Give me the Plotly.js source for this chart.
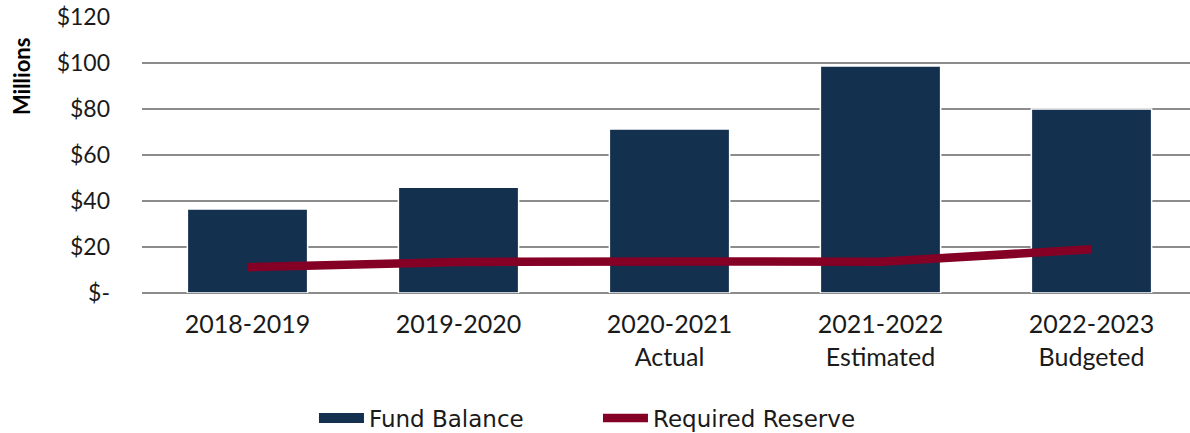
<!DOCTYPE html>
<html>
<head>
<meta charset="utf-8">
<script src="https://cdn.plot.ly/plotly-3.0.1.min.js"></script>
<style>
  body { margin: 0; overflow: hidden; background: #fff; }
  #chart { width: 1197px; height: 440px; }
</style>
</head>
<body>
<div id="chart"></div>
<script>
// categories and values (millions)
var years = ["2018-2019", "2019-2020", "2020-2021<br>Actual", "2021-2022<br>Estimated", "2022-2023<br>Budgeted"];
var fundBalance = [36.5, 46, 71.3, 98.7, 80];
var requiredReserve = [11.2, 13.5, 13.7, 13.6, 19];

var yTicks = [0, 20, 40, 60, 80, 100, 120];
var yTickText = ["$-", "$20", "$40", "$60", "$80", "$100", "$120"];

var barColor = "#14304f";
var lineColor = "#840024";

var bars = {
  x: years,
  y: fundBalance,
  type: "bar",
  name: "Fund Balance",
  showlegend: false,
  marker: { color: barColor, line: { color: "#ffffff", width: 1.5 } }
};

// legend-only entry so the key is drawn as a wide band like the original
var barKey = {
  x: [null],
  y: [null],
  type: "scatter",
  mode: "lines",
  name: "Fund Balance",
  line: { color: barColor, width: 12 }
};

var line = {
  x: years,
  y: requiredReserve,
  type: "scatter",
  mode: "lines",
  name: "Required Reserve",
  line: { color: lineColor, width: 8.5 }
};

var font = "Lato, 'Open Sans', sans-serif";

Plotly.newPlot("chart", [bars, barKey, line], {
  width: 1197,
  height: 440,
  margin: { l: 142, r: 0, t: 17, b: 147 },
  paper_bgcolor: "#ffffff",
  plot_bgcolor: "#ffffff",
  font: { family: font, size: 24, color: "#1a1a1a" },
  bargap: 0.43,
  showlegend: true,
  legend: {
    orientation: "h",
    x: 0.163, xanchor: "left",
    y: -0.453, yanchor: "middle",
    font: { family: "'DejaVu Sans', sans-serif", size: 23 },
    itemwidth: 45,
    entrywidth: 224,
    traceorder: "normal"
  },
  xaxis: {
    type: "category",
    showgrid: false,
    showline: false,
    zeroline: false,
    ticks: "",
    automargin: false,
    tickfont: { size: 25 },
    ticklabelstandoff: 14
  },
  yaxis: {
    range: [0, 120],
    tickvals: yTicks,
    ticktext: yTickText,
    showgrid: true,
    gridcolor: "#8c8c8c",
    gridwidth: 1.5,
    zeroline: true,
    zerolinecolor: "#8c8c8c",
    zerolinewidth: 1.5,
    tickfont: { size: 23 },
    ticklabelstandoff: 31,
    automargin: false
  },
  annotations: [{
    text: "<b>Millions</b>",
    xref: "paper", yref: "paper",
    x: -0.114, xanchor: "center",
    y: 0.785, yanchor: "middle",
    textangle: -90,
    showarrow: false,
    font: { size: 22, color: "#000" }
  }]
}, { displayModeBar: false, staticPlot: true });
</script>
</body>
</html>
